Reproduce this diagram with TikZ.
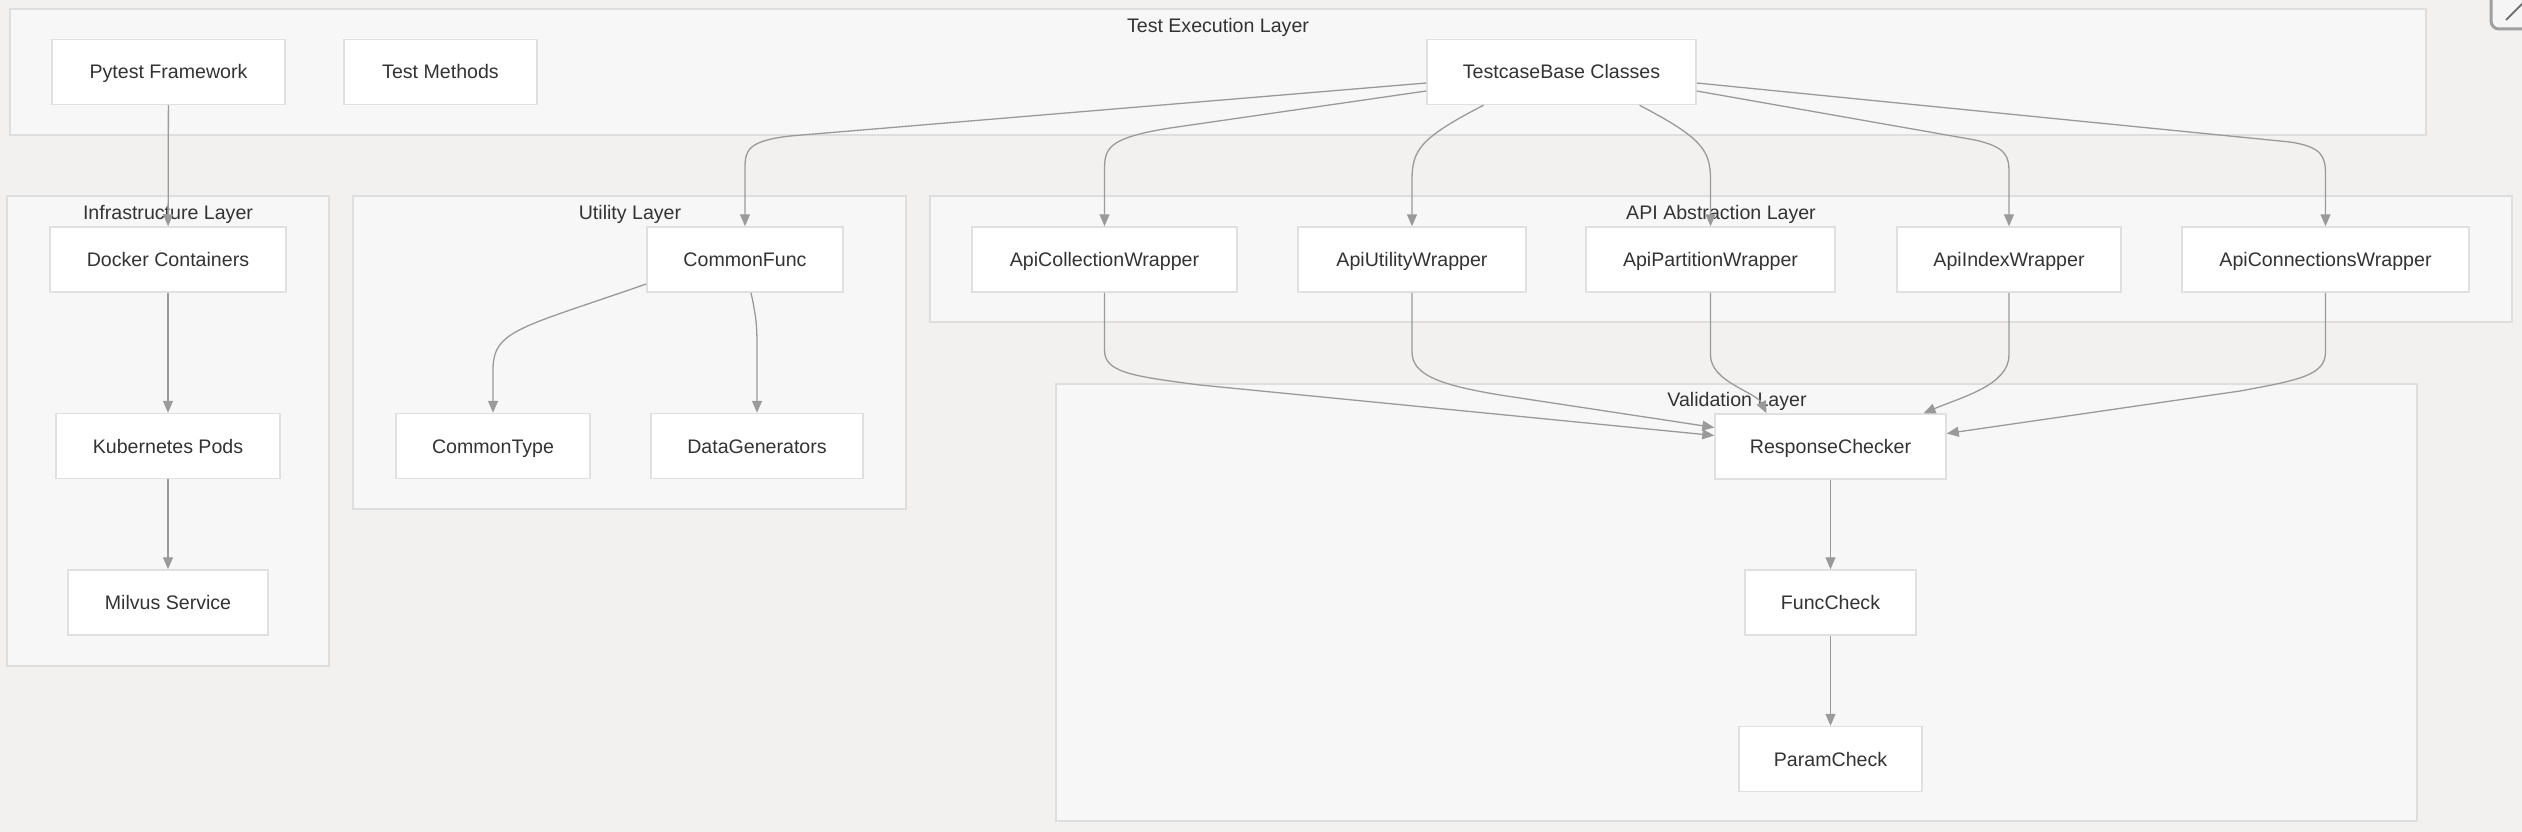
\documentclass[tikz,border=0pt]{standalone}
\usepackage{fontspec}
\setmainfont{Liberation Sans}
\usetikzlibrary{arrows.meta}
\definecolor{bgcol}{HTML}{F2F1EF}
\definecolor{layerfill}{HTML}{F7F7F7}
\definecolor{layerline}{HTML}{DEDEDE}
\definecolor{boxline}{HTML}{E0E0E0}
\definecolor{edgecol}{HTML}{9A9A9A}
\definecolor{txtcol}{HTML}{333333}
\tikzset{
  box/.style={draw=boxline, line width=1.5pt, fill=white, minimum height=65pt,
    inner sep=0pt, text height=16pt, text depth=2pt, text=txtcol,
    font=\fontsize{19.6}{23}\selectfont},
  layer/.style={draw=layerline, line width=1.5pt, fill=layerfill},
  layertitle/.style={text=txtcol, text height=16pt, text depth=2pt, font=\fontsize{19.6}{23}\selectfont},
  edge/.style={draw=edgecol, line width=1.3pt, -{Triangle[length=12pt,width=10pt]}},
}
\begin{document}
\begin{tikzpicture}[x=1pt,y=-1pt]
\useasboundingbox (0,0) rectangle (2522,832);
\fill[bgcol] (0,0) rectangle (2522,832);
% window button, cut off at the corner
\draw[draw=gray!75, line width=3pt, fill=white!96!black, rounded corners=8pt] (2491,-20) rectangle (2575,29);
\draw[gray!90!black, line width=2pt] (2506,20) -- (2530,-4);
% layers
\draw[layer] (10,9) rectangle (2426,135);
\node[layertitle] (texec) at (1218,26) {Test Execution Layer};
\draw[layer] (7,196) rectangle (329,666);
\node[layertitle] (tinfra) at (168,212) {Infrastructure Layer};
\draw[layer] (353,196) rectangle (906,509);
\node[layertitle] (tutil) at (630,212) {Utility Layer};
\draw[layer] (930,196) rectangle (2512,322);
\node[layertitle] (tapi) at (1721,212) {API Abstraction Layer};
\draw[layer] (1056,384) rectangle (2417,821);
\node[layertitle] (tvalid) at (1737,399) {Validation Layer};
% test execution
\node[box, minimum width=233pt] (pytest) at (168.5,72) {Pytest Framework};
\node[box, minimum width=193pt] (methods) at (440.5,72) {Test Methods};
\node[box, minimum width=269pt] (tcb) at (1561.5,72) {TestcaseBase Classes};
% infrastructure
\node[box, minimum width=236pt] (docker) at (168,259.5) {Docker Containers};
\node[box, minimum width=224pt] (pods) at (168,446) {Kubernetes Pods};
\node[box, minimum width=200pt] (milvus) at (168,602.5) {Milvus Service};
% utility
\node[box, minimum width=196pt] (cfunc) at (745,259.5) {CommonFunc};
\node[box, minimum width=194pt] (ctype) at (493,446) {CommonType};
\node[box, minimum width=212pt] (dgen) at (757,446) {DataGenerators};
% api wrappers
\node[box, minimum width=265pt] (apicol) at (1104.5,259.5) {ApiCollectionWrapper};
\node[box, minimum width=228pt] (apiutil) at (1412,259.5) {ApiUtilityWrapper};
\node[box, minimum width=249pt] (apipart) at (1710.5,259.5) {ApiPartitionWrapper};
\node[box, minimum width=224pt] (apiidx) at (2009,259.5) {ApiIndexWrapper};
\node[box, minimum width=287pt] (apiconn) at (2325.5,259.5) {ApiConnectionsWrapper};
% validation
\node[box, minimum width=231pt] (rcheck) at (1830.5,446.5) {ResponseChecker};
\node[box, minimum width=171pt] (fcheck) at (1830.5,602.5) {FuncCheck};
\node[box, minimum width=183pt] (pcheck) at (1830.5,759) {ParamCheck};
% straight edges
\draw[edge] (pytest) -- (docker);
\draw[edge] (docker) -- (pods);
\draw[edge] (pods) -- (milvus);
\draw[edge] (rcheck) -- (fcheck);
\draw[edge] (fcheck) -- (pcheck);
% from TestcaseBase
\draw[edge] ([yshift=-11pt]tcb.west) -- (790,136) .. controls (748,141) and (745,150) .. (745,168) -- (cfunc.north);
\draw[edge] ([yshift=-19pt]tcb.west) -- (1170,128) .. controls (1108,138) and (1104.5,148) .. (1104.5,170) -- (apicol.north);
\draw[edge] ([xshift=-78pt]tcb.south) .. controls (1420,138) and (1412,150) .. (1412,180) -- (apiutil.north);
\draw[edge] ([xshift=78pt]tcb.south) .. controls (1702,138) and (1710.5,150) .. (1710.5,180) -- (apipart.north);
\draw[edge] ([yshift=-19pt]tcb.east) -- (1975,140) .. controls (2006,147) and (2009,156) .. (2009,172) -- (apiidx.north);
\draw[edge] ([yshift=-11pt]tcb.east) -- (2290,142) .. controls (2322,147) and (2325.5,156) .. (2325.5,175) -- (apiconn.north);
% utility edges
\draw[edge] ([yshift=-24.5pt]cfunc.west) .. controls (520,328) and (493,330) .. (493,370) -- (ctype.north);
\draw[edge] ([xshift=6pt]cfunc.south) .. controls (757,320) and (757,330) .. (757,350) -- (dgen.north);
% into ResponseChecker
\draw[edge] (apicol.south) -- (1104.5,350) .. controls (1104.5,372) and (1130,376) .. (1200,385) -- ([yshift=11pt]rcheck.west);
\draw[edge] (apiutil.south) -- (1412,352) .. controls (1412,375) and (1440,385) .. (1500,395) -- ([yshift=19pt]rcheck.west);
\draw[edge] (apipart.south) -- (1710.5,355) .. controls (1710.5,382) and (1756,392) .. ([xshift=-64pt]rcheck.north);
\draw[edge] (apiidx.south) -- (2009,355) .. controls (2009,385) and (1962,397) .. ([xshift=93pt]rcheck.north);
\draw[edge] (apiconn.south) -- (2325.5,352) .. controls (2325.5,375) and (2300,380) .. (2240,391) -- ([yshift=13pt]rcheck.east);
\end{tikzpicture}
\end{document}
